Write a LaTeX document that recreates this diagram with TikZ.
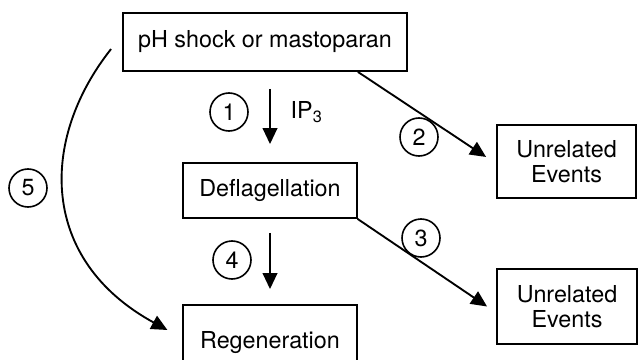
\documentclass[tikz,border=0pt]{standalone}
\usepackage{fontspec}
\setmainfont{TeX Gyre Heros}
\usetikzlibrary{arrows.meta}

\begin{document}
\begin{tikzpicture}[x=0.75pt,y=-0.75pt,
  every node/.style={font=\fontsize{17.5}{18.75}\selectfont},
  box/.style={draw,line width=1.4pt,inner sep=0pt,align=center},
  num/.style={draw,circle,line width=1.2pt,minimum size=28.5pt,inner sep=0pt},
  arr/.style={line width=1.4pt,-{Triangle[length=12pt,width=11pt]}}]
  \useasboundingbox (0,0) rectangle (639,360);
  % boxes
  \node[box,minimum width=213pt,minimum height=43.5pt] (shock) at (265,42) {pH shock or mastoparan};
  \node[box,minimum width=130pt,minimum height=41.25pt] (defl) at (270,190.5) {Deflagellation};
  \node[box,minimum width=130pt,minimum height=57pt] (regen) at (270,343) {Regeneration};  % bottom edge runs off the page
  \node[box,minimum width=104.25pt,minimum height=54.75pt] (evA) at (566.5,161.5) {Unrelated\\Events};
  \node[box,minimum width=105pt,minimum height=56.25pt] (evB) at (567,306.5) {Unrelated\\Events};
  % arrows
  \draw[arr,shorten <=12.75pt,shorten >=13.5pt] (shock.south -| defl.north) -- (defl.north);   % step 1
  \draw[arr] ([xshift=-37.5pt]shock.south east) -- ([xshift=-7.5pt,yshift=3.4pt]evA.west);   % step 2
  \draw[arr] (defl.south east) -- ([xshift=-6.75pt]evB.west);   % step 3
  \draw[arr,shorten <=10.5pt,shorten >=11.25pt] (defl.south) -- (regen.north);   % step 4
  \coordinate (c5start) at ([xshift=-8.25pt,yshift=-5.25pt]shock.west);
  \coordinate (c5end) at ([xshift=-11.25pt,yshift=9.75pt]regen.west);
  \draw[arr] (c5start) .. controls +(-72,91) and +(-128,-70) .. (c5end);   % step 5, long bend on the left
  % numbers
  \node[num] (n1) at (229,112) {1};
  \node[num] (n2) at (419,137) {2};
  \node[num] (n3) at (421,238) {3};
  \node[num] (n4) at (232,260) {4};
  \node[num] (n5) at (28,188) {5};
  \node[anchor=west] (ip) at (286,112) {IP\textsubscript{3}};
\end{tikzpicture}
\end{document}
